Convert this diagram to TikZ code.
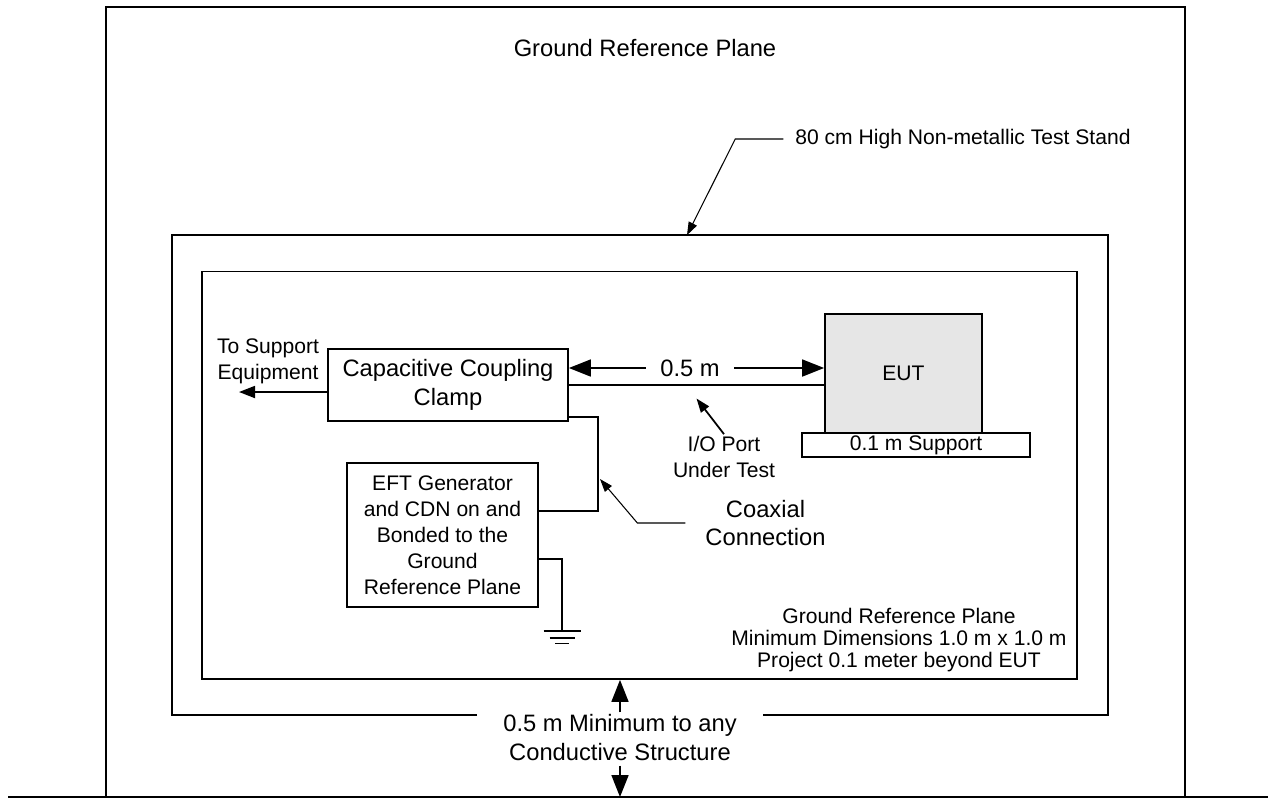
\documentclass[tikz,border=0pt]{standalone}
\usepackage{fontspec}
\setmainfont{Liberation Sans}
\usetikzlibrary{arrows.meta,calc,positioning}
\definecolor{eutfill}{RGB}{230,230,230}
\newcommand{\Nm}{\fontsize{12}{14.8}\selectfont}
\newcommand{\Lg}{\fontsize{13.5}{16.2}\selectfont}

\begin{document}
\begin{tikzpicture}[>=Triangle, x=1cm, y=1cm]

\tikzset{
  box/.style={
    draw,
    line width=1pt,
    fill=white,
    align=center,
    inner sep=0pt,
    font=\Nm
  },
  lbl/.style={
    align=center,
    inner sep=1pt,
    font=\Nm
  },
  wire/.style={line width=1pt},
  leader/.style={line width=0.6pt, -{Triangle[length=0.26cm,width=0.18cm]}},
  dimarrow/.style={line width=1pt, -{Triangle[length=0.44cm,width=0.34cm]}},
  outarrow/.style={line width=1pt, -{Triangle[length=0.32cm,width=0.24cm]}}
}

\useasboundingbox (0,0) rectangle (25.36,-15.98);

% Outer ground plane, open at the floor
\draw[line width=1.3pt] (2.12,-15.94) |- (23.70,-0.14) -- (23.70,-15.94);
\draw[line width=1.3pt] (0.16,-15.94) -- (25.36,-15.94);
\node[lbl, font=\Lg] (grp-top) at (12.90,-0.96) {Ground Reference Plane};

% Test stand (outline broken for the clearance label) and plane on it
\node[minimum width=18.71cm, minimum height=9.59cm, inner sep=0pt] (stand) at (12.795,-9.505) {};
\draw[wire] (9.54,0 |- stand.south) -| (stand.north west) -| (stand.south east) -- (15.26,0 |- stand.south);
\node[box, minimum width=17.5cm, minimum height=8.15cm] (plane) at (12.79,-9.505) {};

\node[lbl, anchor=west] (stand-lbl) at (15.865,-2.78) {80 cm High Non-metallic Test Stand};
\coordinate (stand-tip) at (13.74,0 |- stand.north);
\draw[leader] ([xshift=-0.2cm]stand-lbl.west) -- ++(-0.96,0) -- (stand-tip);

% Equipment on the plane
\node[box, font=\Lg, minimum width=4.8cm, minimum height=1.44cm] (clamp) at (8.96,-7.70)
  {Capacitive Coupling\\Clamp};
\node[box, fill=eutfill, minimum width=3.14cm, minimum height=2.38cm] (eut) at (18.07,-7.47) {EUT};
\node[box, minimum width=4.56cm, minimum height=0.48cm] (support) at (18.32,-8.90) {0.1 m Support};
\node[box, minimum width=3.82cm, minimum height=2.88cm] (eft) at (8.85,-10.70)
  {EFT Generator\\and CDN on and\\Bonded to the\\Ground\\Reference Plane};

% Cable to the EUT and the 0.5 m spacing
\draw[wire] (clamp.east) -- (clamp.east -| eut.west);
\node[lbl, font=\Lg, inner xsep=0.28cm] (dim-top) at (13.80,-7.36) {0.5 m};
\draw[dimarrow] (dim-top.west) -- (dim-top.west -| clamp.east);
\draw[dimarrow] (dim-top.east) -- (dim-top.east -| eut.west);

\node[lbl] (io-lbl) at (14.48,-9.14) {I/O Port\\Under Test};
\coordinate (io-tip) at (13.93,-7.97);
\draw[line width=1pt, -{Triangle[length=0.28cm,width=0.2cm]}] (io-lbl.north) -- (io-tip);

% Lead to the support equipment
\node[lbl] (supp-lbl) at (5.36,-7.22) {To Support\\Equipment};
\coordinate (supp-tip) at (4.78,-7.84);
\draw[outarrow] (clamp.west |- supp-tip) -- (supp-tip);

% Coaxial link and ground bond
\draw[wire] ([yshift=0.1cm]clamp.south east) -| ([xshift=1.18cm,yshift=0.48cm]eft.east) -- ([yshift=0.48cm]eft.east);
\coordinate (gnd) at (11.24,-12.62);
\draw[wire] ([yshift=-0.48cm]eft.east) -| (gnd);
\foreach \w/\d in {0.37/0, 0.25/0.14, 0.14/0.25} {
  \draw[wire] ([xshift=-\w cm,yshift=-\d cm]gnd) -- ([xshift=\w cm,yshift=-\d cm]gnd);
}

\node[lbl, font=\Lg] (coax-lbl) at (15.31,-10.46) {Coaxial\\Connection};
\coordinate (coax-tip) at (12.00,-9.58);
\draw[leader] ([xshift=-0.36cm]coax-lbl.west) -- ++(-0.96,0) -- (coax-tip);

\node[lbl, font=\fontsize{12}{12.4}\selectfont] (plane-lbl) at (17.98,-12.80)
  {Ground Reference Plane\\Minimum Dimensions 1.0 m x 1.0 m\\Project 0.1 meter beyond EUT};

% Clearance to conductive structures
\node[lbl, font=\Lg] (min-lbl) at (12.40,-14.75) {0.5 m Minimum to any\\Conductive Structure};
\draw[dimarrow] (min-lbl.north) -- (min-lbl.north |- plane.south);
\draw[dimarrow] ([yshift=-0.06cm]min-lbl.south) -- (min-lbl.south |- 0,-15.94);

\end{tikzpicture}
\end{document}
